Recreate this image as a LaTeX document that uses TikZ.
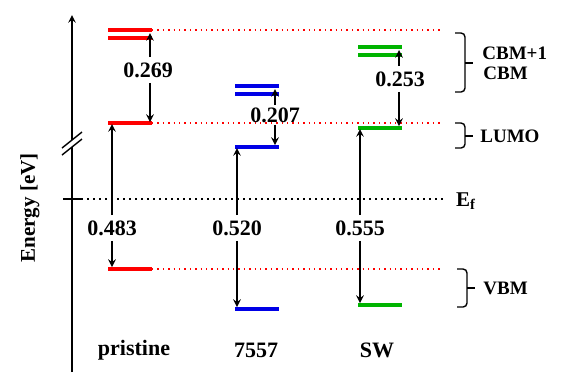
\documentclass[tikz,border=0pt]{standalone}
\usepackage{fontspec}
\setmainfont{Liberation Serif}
\definecolor{lvlred}{RGB}{255,0,0}
\definecolor{lvlblue}{RGB}{0,0,230}
\definecolor{lvlgreen}{RGB}{0,180,0}
\begin{document}
\begin{tikzpicture}[x=0.5pt,y=-0.5pt,
    lvl/.style={line width=1.6pt},
    gap/.style={->,>=stealth,line width=0.7pt},
    num/.style={font=\bfseries\fontsize{11}{13}\selectfont,inner sep=2.5pt},
    side/.style={font=\bfseries\fontsize{9.5}{11}\selectfont,anchor=west,inner sep=0pt}]
  \useasboundingbox (0,0) rectangle (562,372);
  % axis with break
  \draw[->,>=stealth,line width=0.7pt] (72,372) -- (72,15);
  \fill[white] (62,148) -- (82,132) -- (82,139) -- (62,155) -- cycle;
  \draw[line width=0.7pt] (62,148) -- (82,132);
  \draw[line width=0.7pt] (62,155) -- (82,139);
  \draw[line width=0.9pt] (63,199) -- (81,199);
  \node[rotate=90,font=\bfseries\fontsize{10.5}{12}\selectfont] (elabel) at (30,208) {Energy [eV]};
  % reference lines
  \draw[lvlred,dotted,line width=0.7pt] (152,30) -- (440,30);
  \draw[lvlred,dotted,line width=0.7pt] (152,123) -- (440,123);
  \draw[lvlred,dotted,line width=0.7pt] (152,269) -- (440,269);
  \draw[dotted,line width=1pt] (81,199) -- (443,199);
  \node[font=\bfseries\fontsize{10.5}{12}\selectfont] (ef) at (466,201) {E\textsubscript{f}};
  % pristine
  \draw[lvl,lvlred] (108,30) -- (152,30);
  \draw[lvl,lvlred] (108,38) -- (152,38);
  \draw[lvl,lvlred] (108,123) -- (152,123);
  \draw[lvl,lvlred] (108,269) -- (152,269);
  \coordinate (pC) at (150,33);
  \coordinate (pLa) at (150,122);
  \coordinate (pLb) at (112,124);
  \coordinate (pV) at (112,267);
  \node[num] (p269) at (148,70) {0.269};
  \draw[gap] (p269.north -| pC) -- (pC);
  \draw[gap] (p269.south -| pLa) -- (pLa);
  \node[num] (p483) at (112,228) {0.483};
  \draw[gap] (p483.north -| pLb) -- (pLb);
  \draw[gap] (p483.south -| pV) -- (pV);
  % 7557
  \draw[lvl,lvlblue] (235,86) -- (279,86);
  \draw[lvl,lvlblue] (235,94) -- (279,94);
  \draw[lvl,lvlblue] (235,147) -- (279,147);
  \draw[lvl,lvlblue] (235,309) -- (279,309);
  \coordinate (bC) at (275,89);
  \coordinate (bLa) at (275,145);
  \coordinate (bLb) at (237,148);
  \coordinate (bV) at (237,307);
  \node[num,inner sep=1pt] (b207) at (275,115) {0.207};
  \draw[gap] (b207.north -| bC) -- (bC);
  \draw[gap] (b207.south -| bLa) -- (bLa);
  \node[num] (b520) at (237,228) {0.520};
  \draw[gap] (b520.north -| bLb) -- (bLb);
  \draw[gap] (b520.south -| bV) -- (bV);
  % SW
  \draw[lvl,lvlgreen] (358,47) -- (402,47);
  \draw[lvl,lvlgreen] (358,55) -- (402,55);
  \draw[lvl,lvlgreen] (358,128) -- (402,128);
  \draw[lvl,lvlgreen] (358,305) -- (402,305);
  \coordinate (gC) at (399,50);
  \coordinate (gLa) at (399,126);
  \coordinate (gLb) at (360,129);
  \coordinate (gV) at (360,303);
  \node[num] (g253) at (400,79) {0.253};
  \draw[gap] (g253.north -| gC) -- (gC);
  \draw[gap] (g253.south -| gLa) -- (gLa);
  \node[num] (g555) at (360,228) {0.555};
  \draw[gap] (g555.north -| gLb) -- (gLb);
  \draw[gap] (g555.south -| gV) -- (gV);
  % braces
  \draw[line width=0.7pt,rounded corners=2pt] (455,33) -| (465,92) -- (455,92);
  \draw[line width=0.7pt] (465,63) -- (473,63);
  \draw[line width=0.7pt,rounded corners=2pt] (455,123) -| (465,148) -- (455,148);
  \draw[line width=0.7pt] (465,136) -- (473,136);
  \draw[line width=0.7pt,rounded corners=2pt] (457,269) -| (467,307) -- (457,307);
  \draw[line width=0.7pt] (467,288) -- (475,288);
  \node[side] (cbm1) at (482,53) {CBM+1};
  \node[side] (cbm) at (483,73) {CBM};
  \node[side] (lumo) at (480,136) {LUMO};
  \node[side] (vbm) at (483,288) {VBM};
  % structures
  \node[num] (prist) at (134,350) {pristine};
  \node[num] (s7557) at (256,350) {7557};
  \node[num] (sw) at (377,350) {SW};
\end{tikzpicture}
\end{document}
